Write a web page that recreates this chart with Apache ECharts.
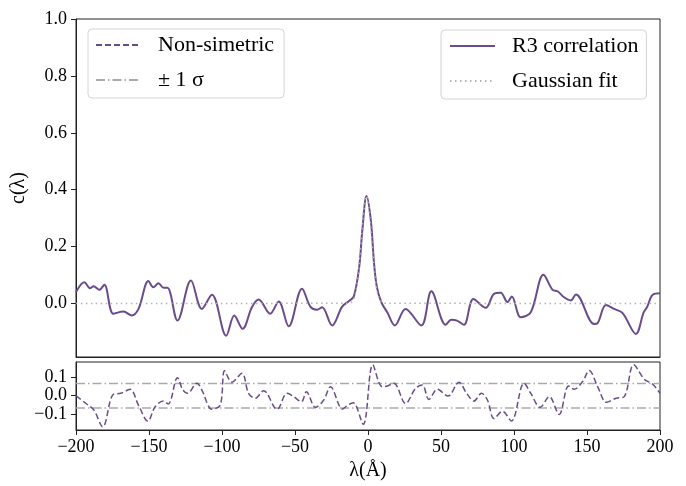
<!DOCTYPE html>
<html>
<head>
<meta charset="utf-8">
<script src="https://cdn.jsdelivr.net/npm/echarts@6/dist/echarts.min.js"></script>
<style>html,body{margin:0;padding:0;background:#fff}#c{width:686px;height:486px}</style>
</head>
<body>
<div id="c"></div>
<script>
// ---- data ----
const r3X = [-200,-194.3,-190.4,-188,-184,-180.6,-174.4,-167.5,-161.8,-157.2,-150.4,-147,-143.5,-140,-137.4,-130.5,-121.3,-113.8,-106.9,-97.1,-91.6,-85.9,-79.5,-74.9,-67,-61.2,-54.3,-45.2,-39.5,-34.9,-31.4,-24.6,-17.7,-13.2,-9.7,-6,-4,-1,2,4,6,9.1,13.2,18.4,25.7,36.5,43.4,53.2,57,61,65.7,72.2,80.6,86.3,90.9,95.5,98.5,104.6,111.5,120.2,126.4,129.8,134.3,138.9,142.4,154.9,157.3,163,168.6,174.4,183.5,188.8,191.1,195,200];
const r3Y = [0.040,0.075,0.054,0.061,0.048,0.066,-0.036,-0.028,-0.042,-0.019,0.079,0.057,0.071,0.055,0.055,-0.060,0.081,-0.019,0.031,-0.113,-0.042,-0.089,-0.013,0.014,-0.036,0.007,-0.080,0.052,-0.011,-0.022,-0.013,-0.077,-0.011,0.008,0.025,0.13,0.25,0.378,0.29,0.15,0.06,0.005,-0.031,-0.077,-0.019,-0.077,0.043,-0.075,-0.057,-0.060,-0.075,0.016,-0.015,0.034,0.038,0.005,0.025,-0.048,-0.031,0.101,0.048,0.043,0.022,0.011,0.032,-0.072,-0.069,-0.005,-0.019,-0.034,-0.107,-0.031,-0.013,0.031,0.036];

const gaussX = [-200,-13,-11,-9,-7,-5,-3,-1,1,3,5,7,9,11,200];
const gaussY = [0,0.001,0.006,0.028,0.087,0.198,0.32,0.378,0.32,0.198,0.087,0.028,0.006,0.001,0];

const nsX = [-200,-192.7,-187.7,-181.7,-174.4,-169.3,-163,-157.2,-150.8,-145.8,-140.1,-136.8,-130.5,-126.8,-123.6,-117.2,-113.8,-106.9,-101.2,-98.2,-93.2,-86.3,-81.8,-77.2,-71.5,-62.3,-55.4,-50.9,-45.6,-42.2,-36,-30.3,-25.7,-17.5,-14,-10.2,-3.3,3.3,9.7,13.2,17.7,25.7,32.6,37.2,41.7,47.5,54.8,62.3,67.6,72.6,77.7,81.8,86.3,92.1,98.2,106.9,111.5,117.9,124.1,130.9,137.4,141.2,147,151.5,157.3,163.4,169.8,175.5,182,189.2,195,200];
const nsY = [0.0,-0.045,-0.078,-0.169,0.008,0.013,0.035,-0.051,-0.138,-0.060,-0.029,-0.045,0.098,0.031,0.013,0.068,0.031,-0.073,-0.051,0.135,0.073,0.122,0.013,-0.014,0.027,-0.074,0.013,-0.005,-0.033,0.022,-0.063,-0.023,0.049,-0.072,-0.052,-0.038,-0.155,0.168,0.049,0.053,0.068,-0.042,0.040,0.058,-0.020,0.035,-0.002,0.073,0.013,-0.029,0.013,-0.023,-0.124,-0.084,-0.137,0.068,0.013,-0.063,-0.005,-0.102,0.053,0.035,0.077,0.137,0.049,-0.036,-0.014,-0.005,0.168,0.090,0.062,0.013];

const sigma = 0.067;
const xRange = [-200, 200];
const topTicks = [0.0,0.2,0.4,0.6,0.8,1.0];
const botTicks = [-0.1,0.0,0.1];

// ---- chart ----
const zip = (a,b) => a.map((v,i)=>[v,b[i]]);
const FONT = 'Liberation Serif';
const PURPLE = '#6a4c8c';
const fmt = v => (v < -1e-9 ? '\u2212' : '') + Math.abs(v).toFixed(1);
const fmtX = v => (v < 0 ? '\u2212' : '') + Math.abs(v);

const chart = echarts.init(document.getElementById('c'), null, {renderer:'canvas'});
const axisLine = {show:true, onZero:false, lineStyle:{color:'#222', width:1}};
const tick = {show:true, inside:false, length:5, lineStyle:{color:'#222', width:1}};
const legendBase = {
  orient:'vertical', itemWidth:45, itemHeight:14, itemGap:11,
  borderColor:'#d4d4d4', borderWidth:1, borderRadius:4, backgroundColor:'#fff',
  itemStyle:{opacity:0, color:'transparent', borderWidth:0},
  textStyle:{color:'#000', fontFamily:FONT, fontSize:22, lineHeight:24, padding:[0,0,0,12]}
};

chart.setOption({
  animation:false,
  backgroundColor:'#fff',
  grid:[
    {left:76, top:19, width:584, height:338, show:true, borderColor:'#222', borderWidth:1, backgroundColor:'transparent'},
    {left:76, top:362, width:584, height:68, show:true, borderColor:'#222', borderWidth:1, backgroundColor:'transparent'}
  ],
  xAxis:[
    {type:'value', gridIndex:0, min:xRange[0], max:xRange[1], interval:50,
     axisLine:axisLine, axisTick:{show:false}, axisLabel:{show:false}, splitLine:{show:false}},
    {type:'value', gridIndex:1, min:xRange[0], max:xRange[1], interval:50,
     axisLine:axisLine, axisTick:tick,
     axisLabel:{show:true, margin:8, formatter:fmtX, color:'#000', fontFamily:FONT, fontSize:18},
     splitLine:{show:false},
     name:'\u03bb(\u00c5)', nameLocation:'middle', nameGap:31,
     nameTextStyle:{color:'#000', fontFamily:FONT, fontSize:20}}
  ],
  yAxis:[
    {type:'value', gridIndex:0, min:-0.188, max:1.0,
     axisLine:axisLine,
     axisTick:Object.assign({customValues:topTicks}, tick),
     axisLabel:{show:true, customValues:topTicks, margin:9, formatter:fmt, color:'#000', fontFamily:FONT, fontSize:18},
     splitLine:{show:false},
     name:'c(\u03bb)', nameLocation:'middle', nameGap:47, nameRotate:90,
     nameTextStyle:{color:'#000', fontFamily:FONT, fontSize:20}},
    {type:'value', gridIndex:1, min:-0.186, max:0.183,
     axisLine:axisLine,
     axisTick:Object.assign({customValues:botTicks}, tick),
     axisLabel:{show:true, customValues:botTicks, margin:9, formatter:fmt, color:'#000', fontFamily:FONT, fontSize:18},
     splitLine:{show:false}}
  ],
  legend:[
    Object.assign({left:88, top:29, data:['Non-simetric','\u00b1 1 \u03c3'], padding:[4,10,6,7]}, legendBase),
    Object.assign({left:441, top:30, data:['R3 correlation','Gaussian fit'], padding:[4,8,6,8]}, legendBase)
  ],
  series:[
    {name:'R3 correlation', type:'line', xAxisIndex:0, yAxisIndex:0, data:zip(r3X,r3Y),
     smooth:0.35, symbol:'none', lineStyle:{color:PURPLE, width:2}, itemStyle:{color:PURPLE}, z:3},
    {name:'Gaussian fit', type:'line', xAxisIndex:0, yAxisIndex:0, data:zip(gaussX,gaussY),
     smooth:0.4, symbol:'none', lineStyle:{color:'#b3b3b3', width:1.5, type:[1.5,3.5]}, itemStyle:{color:'#b3b3b3'}, z:4},
    {name:'Non-simetric', type:'line', xAxisIndex:1, yAxisIndex:1, data:zip(nsX,nsY),
     smooth:0.35, symbol:'none', lineStyle:{color:PURPLE, width:1.5, type:[6,3]}, itemStyle:{color:PURPLE}, z:4},
    {name:'\u00b1 1 \u03c3', type:'line', xAxisIndex:1, yAxisIndex:1, data:[[xRange[0],sigma],[xRange[1],sigma]],
     symbol:'none', lineStyle:{color:'#aaaaaa', width:1.5, type:[9,3,1.5,3]}, itemStyle:{color:'#aaaaaa'}, z:3},
    {name:'\u00b1 1 \u03c3', type:'line', xAxisIndex:1, yAxisIndex:1, data:[[xRange[0],-sigma],[xRange[1],-sigma]],
     symbol:'none', lineStyle:{color:'#aaaaaa', width:1.5, type:[9,3,1.5,3]}, itemStyle:{color:'#aaaaaa'}, z:3}
  ]
});
</script>
</body>
</html>
